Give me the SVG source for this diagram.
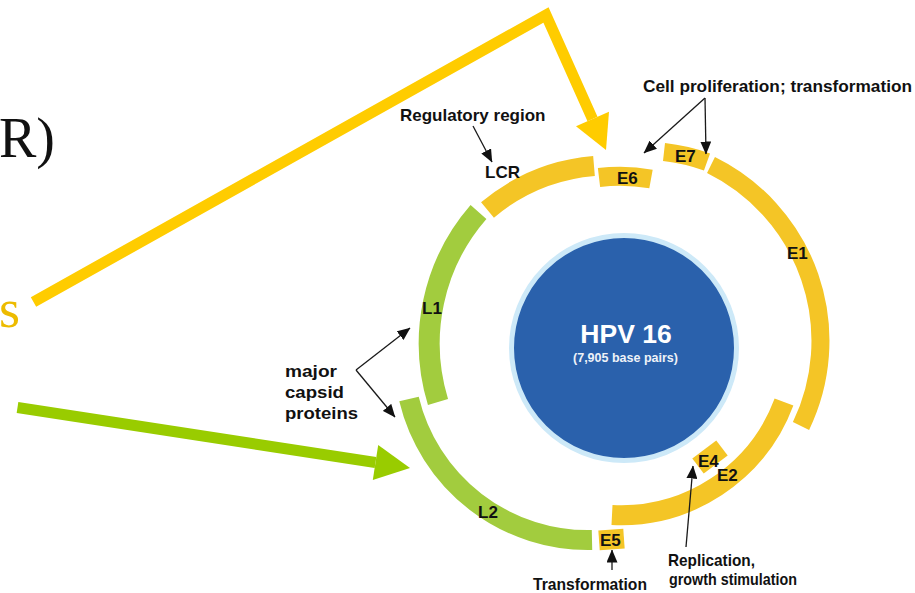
<svg xmlns="http://www.w3.org/2000/svg" width="915" height="593" viewBox="0 0 915 593">
<defs>
<style>
.lbl{font-family:"Liberation Sans",Arial,sans-serif;font-weight:bold;font-size:17px;fill:#111}
.ybar{fill:none;stroke:#F4C526;stroke-linecap:butt}
.gbar{fill:none;stroke:#A2CC3E;stroke-linecap:butt}
.thin{fill:none;stroke:#1a1a1a;stroke-width:1.3}
</style>
<marker id="ah" markerUnits="userSpaceOnUse" markerWidth="13" markerHeight="11" viewBox="0 0 13 11" refX="12.5" refY="5.5" orient="auto">
<path d="M0,0 L13,5.5 L0,11 z" fill="#111"/>
</marker>
</defs>
<rect width="915" height="593" fill="#fff"/>

<g id="slide-text">
<text x="-1" y="157" font-family="'Liberation Serif','Times New Roman',serif" font-size="56" fill="#111">R)</text>
<text x="-1" y="327" font-family="'Liberation Serif','Times New Roman',serif" font-size="54" fill="#EDBB00">s</text>
</g>

<g id="genome">
<circle cx="624" cy="348" r="112.5" fill="#2A61AC" stroke="#CDE9F8" stroke-width="5"/>
<text x="626" y="343" text-anchor="middle" font-family="'Liberation Sans',Arial,sans-serif" font-weight="bold" font-size="26.5" fill="#fff">HPV 16</text>
<text x="625.5" y="362" text-anchor="middle" font-family="'Liberation Sans',Arial,sans-serif" font-weight="bold" font-size="12.5" fill="#EEF2F8">(7,905 base pairs)</text>
</g>

<g id="LCR">
<path class="ybar" stroke-width="20" d="M487.5,210 A190,190 0 0 1 594,166"/>
<text class="lbl" x="485" y="178">LCR</text>
</g>
<g id="E6">
<path class="ybar" stroke-width="19" d="M599,177.5 A175,175 0 0 1 651,179"/>
<text class="lbl" x="617" y="184">E6</text>
</g>
<g id="E7">
<path class="ybar" stroke-width="18" d="M664,152 A190,190 0 0 1 707,162"/>
<text class="lbl" x="675" y="162">E7</text>
</g>
<g id="E1">
<path class="ybar" stroke-width="18" d="M711,165 A196,196 0 0 1 801,426"/>
<text class="lbl" x="787" y="259">E1</text>
</g>
<g id="E2">
<path class="ybar" stroke-width="20" d="M784,402 A174,174 0 0 1 612,515"/>
<text class="lbl" x="717" y="481">E2</text>
</g>
<g id="E4">
<rect x="-15" y="-9.5" width="30" height="19" fill="#F4C526" transform="translate(710,457) rotate(-37)"/>
<text class="lbl" x="698" y="467">E4</text>
</g>
<g id="E5">
<rect x="-12.5" y="-10" width="25" height="20" fill="#F4C526" transform="translate(611.5,539.5) rotate(-4)"/>
<text class="lbl" x="600" y="546">E5</text>
</g>
<g id="L2">
<path class="gbar" stroke-width="20" d="M409,399 A184,184 0 0 0 592,540"/>
<text class="lbl" x="478" y="518">L2</text>
</g>
<g id="L1">
<path class="gbar" stroke-width="21" d="M438,402 A200,200 0 0 1 478.5,212"/>
<text class="lbl" x="422" y="314">L1</text>
</g>

<g id="annotations">
<text class="lbl" x="400" y="120.5">Regulatory region</text>
<text class="lbl" x="643" y="92" textLength="269" lengthAdjust="spacingAndGlyphs">Cell proliferation; transformation</text>
<text class="lbl" font-size="18.5" x="285" y="377" textLength="52" lengthAdjust="spacingAndGlyphs">major</text>
<text class="lbl" font-size="18.5" x="285" y="398" textLength="59" lengthAdjust="spacingAndGlyphs">capsid</text>
<text class="lbl" font-size="18.5" x="285" y="419" textLength="73" lengthAdjust="spacingAndGlyphs">proteins</text>
<text class="lbl" font-size="16" x="533" y="590" textLength="114" lengthAdjust="spacingAndGlyphs">Transformation</text>
<text class="lbl" font-size="15.5" x="668" y="566" textLength="87" lengthAdjust="spacingAndGlyphs">Replication,</text>
<text class="lbl" font-size="14.5" x="669" y="585" textLength="128" lengthAdjust="spacingAndGlyphs">growth stimulation</text>
</g>

<g id="connectors">
<polyline points="33.5,302 546,15 592.5,119" fill="none" stroke="#FFCC00" stroke-width="11" stroke-linejoin="miter"/>
<polygon points="576,126.2 609,111.8 606,150" fill="#FFCC00"/>
<line x1="17.5" y1="407.5" x2="375.5" y2="462.5" stroke="#99CC00" stroke-width="11"/>
<polygon points="378.2,445 372.8,480 410,468" fill="#99CC00"/>
<line class="thin" x1="473" y1="126" x2="492" y2="162" marker-end="url(#ah)"/>
<line class="thin" x1="705" y1="98" x2="644" y2="153" marker-end="url(#ah)"/>
<line class="thin" x1="705" y1="98" x2="706" y2="154" marker-end="url(#ah)"/>
<line class="thin" x1="356" y1="370" x2="410" y2="328" marker-end="url(#ah)"/>
<line class="thin" x1="356" y1="370" x2="395" y2="417" marker-end="url(#ah)"/>
<line class="thin" x1="612" y1="570" x2="612" y2="550" marker-end="url(#ah)"/>
<line class="thin" x1="686" y1="547" x2="693" y2="466" marker-end="url(#ah)"/>
</g>
</svg>
